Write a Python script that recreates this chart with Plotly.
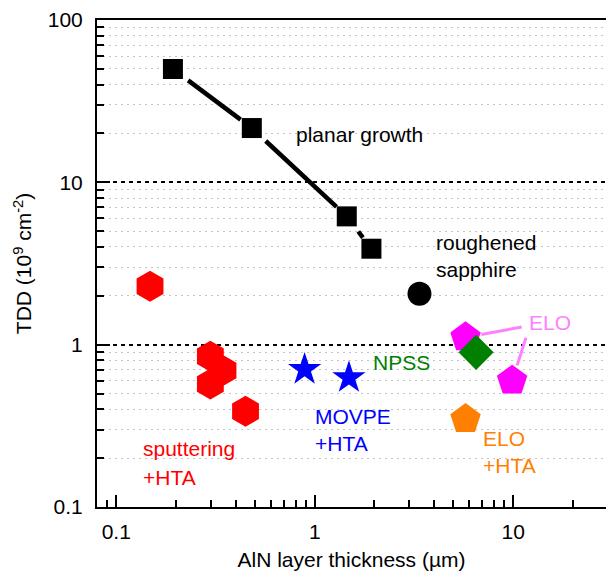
import math
import plotly.graph_objects as go

# ---------------- data ----------------
planar_x = [0.193, 0.482, 1.45, 1.93]
planar_y = [49.9, 21.6, 6.17, 3.90]
rough_x = [3.37]
rough_y = [2.06]
sput_x = [0.148, 0.298, 0.345, 0.298, 0.448]
sput_y = [2.29, 0.847, 0.692, 0.573, 0.389]
movpe_x = [0.889, 1.487]
movpe_y = [0.703, 0.626]
npss_x = [6.5]
npss_y = [0.897]
elo_x = [5.75, 9.87]
elo_y = [1.109, 0.600]
eloh_x = [5.75]
eloh_y = [0.348]

x_major = [0.1, 1, 10]
x_major_text = ["0.1", "1", "10"]
y_major = [0.1, 1, 10, 100]
y_major_text = ["0.1", "1", "10", "100"]
x_minor = [m * d for d in (0.01, 0.1, 1, 10) for m in range(2, 10)]
x_minor = [v for v in x_minor if 0.08 <= v <= 30]
y_minor = [m * d for d in (0.1, 1, 10) for m in range(2, 10)]

# ---------------- layout geometry ----------------
FW, FH = 606, 571
L, T, R, B = 97, 20, 0, 64
W = FW - L - R
H = FH - T - B
XR = [math.log10(0.08), math.log10(0.08) + W / 198.5]
YR = [-1, 2]
FONT = "Liberation Sans, Arial, sans-serif"
FS = 21


def to_px(xv, yv):
    px = L + (math.log10(xv) - XR[0]) / (XR[1] - XR[0]) * W
    py = T + (YR[1] - math.log10(yv)) / (YR[1] - YR[0]) * H
    return px, py


def from_px(px, py):
    xv = 10 ** (XR[0] + (px - L) / W * (XR[1] - XR[0]))
    yv = 10 ** (YR[1] - (py - T) / H * (YR[1] - YR[0]))
    return xv, yv


def trimmed(p0, p1, t0, t1):
    dx, dy = p1[0] - p0[0], p1[1] - p0[1]
    d = math.hypot(dx, dy)
    ux, uy = dx / d, dy / d
    a = (p0[0] + ux * t0, p0[1] + uy * t0)
    b = (p1[0] - ux * t1, p1[1] - uy * t1)
    return from_px(*a), from_px(*b)


fig = go.Figure()

# planar growth connecting line with gaps near markers
lx, ly = [], []
for i in range(len(planar_x) - 1):
    a, b = trimmed(to_px(planar_x[i], planar_y[i]),
                   to_px(planar_x[i + 1], planar_y[i + 1]), 19, 14)
    lx += [a[0], b[0], None]
    ly += [a[1], b[1], None]
fig.add_trace(go.Scatter(x=lx, y=ly, mode="lines",
                         line=dict(color="black", width=4.5),
                         hoverinfo="skip", showlegend=False))

# ELO leader lines
ELO_ATTACH = [(521.7, 327.0), (526.0, 337.7)]
ex, ey = [], []
for i in range(len(elo_x)):
    c = to_px(elo_x[i], elo_y[i])
    a, b = trimmed(c, ELO_ATTACH[i], 16, 0)
    ex += [a[0], b[0], None]
    ey += [a[1], b[1], None]
fig.add_trace(go.Scatter(x=ex, y=ey, mode="lines",
                         line=dict(color="#ff80ff", width=3),
                         hoverinfo="skip", showlegend=False))


def pts(x, y, sym, size, color):
    fig.add_trace(go.Scatter(x=x, y=y, mode="markers",
                             marker=dict(symbol=sym, size=size, color=color,
                                         line=dict(width=0)),
                             showlegend=False))


pts(planar_x, planar_y, "square", 20, "black")
pts(rough_x, rough_y, "circle", 24, "black")
pts(sput_x, sput_y, "hexagon", 31, "#ff0000")
pts(movpe_x, movpe_y, "star", 25, "#0000ff")
pts(elo_x, elo_y, "pentagon", 32, "#ff00ff")
pts(npss_x, npss_y, "diamond", 27, "#008000")
pts(eloh_x, eloh_y, "pentagon", 32, "#ff8000")

# text labels (left edge px, vertical centre px)
labels = [
    ("planar growth", 295.7, 134.5, "black"),
    ("roughened", 435.7, 242.0, "black"),
    ("sapphire", 435.7, 269.5, "black"),
    ("ELO", 529.0, 322.0, "#ff80ff"),
    ("NPSS", 373.3, 362.0, "#008000"),
    ("MOVPE", 315.0, 416.5, "#0000ff"),
    ("+HTA", 315.0, 443.3, "#0000ff"),
    ("sputtering", 143.3, 448.5, "#ff0000"),
    ("+HTA", 143.3, 477.5, "#ff0000"),
    ("ELO", 482.7, 438.3, "#ff8000"),
    ("+HTA", 482.7, 465.8, "#ff8000"),
]
for txt, px, py, col in labels:
    fig.add_annotation(text=txt, xref="paper", yref="paper",
                       x=(px - 2 - L) / W, y=(T + H - py) / H,
                       xanchor="left", yanchor="middle", showarrow=False,
                       font=dict(family=FONT, size=FS, color=col))

fig.update_layout(
    width=FW, height=FH,
    margin=dict(l=L, r=R, t=T, b=B, pad=0),
    paper_bgcolor="white", plot_bgcolor="white",
    font=dict(family=FONT, size=FS, color="black"),
    showlegend=False,
)
fig.update_xaxes(
    type="log", range=XR, showline=True, linecolor="black", linewidth=2,
    mirror=True, ticks="inside", ticklen=12, tickwidth=2, tickcolor="black",
    tickmode="array", tickvals=x_major, ticktext=x_major_text,
    showgrid=False, zeroline=False, ticklabelstandoff=5,
    minor=dict(tickmode="array", tickvals=x_minor, ticks="inside",
               ticklen=7, tickwidth=1.5, tickcolor="black", showgrid=False),
    title=dict(text="AlN layer thickness (µm)", font=dict(size=FS), standoff=11),
    automargin=False,
)
fig.update_yaxes(
    type="log", range=YR, showline=True, linecolor="black", linewidth=2,
    ticks="inside", ticklen=13, tickwidth=2, tickcolor="black",
    tickmode="array", tickvals=y_major, ticktext=y_major_text,
    showgrid=True, gridcolor="black", gridwidth=1.5, griddash="4px,4px",
    zeroline=False, ticklabelstandoff=8,
    minor=dict(tickmode="array", tickvals=y_minor, ticks="inside",
               ticklen=7, tickwidth=1.5, tickcolor="black", showgrid=True,
               gridcolor="#c4c4c4", gridwidth=1, griddash="2px,4px"),
    title=dict(text="TDD (10<sup>9</sup> cm<sup>-2</sup>)", font=dict(size=FS),
               standoff=10),
    automargin=False,
)

fig.write_html("out.html")
